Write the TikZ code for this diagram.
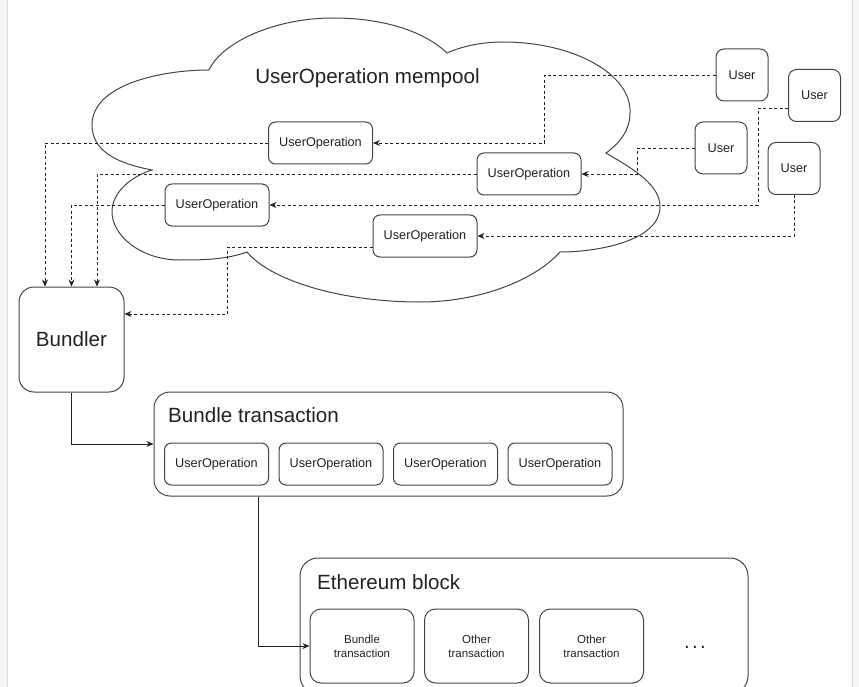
\documentclass[tikz,border=0pt]{standalone}
\usepackage{fontspec}
\setmainfont{Liberation Sans}
\usetikzlibrary{arrows.meta}
\definecolor{linec}{HTML}{444444}
\definecolor{textc}{HTML}{222222}
\definecolor{framec}{HTML}{DDDDDD}
\definecolor{framefill}{HTML}{F6F6F6}
\tikzset{
  box/.style={draw=linec, line width=1pt, rounded corners=7pt, minimum width=104pt, minimum height=42pt, inner sep=0pt, text=textc, font=\fontsize{12.7}{15}\selectfont},
  userbox/.style={box, minimum width=52pt, minimum height=52pt, rounded corners=8pt},
  txbox/.style={box, minimum width=104pt, minimum height=74pt, rounded corners=11pt, align=center, font=\fontsize{11.5}{14}\selectfont},
  bigbox/.style={draw=linec, line width=1pt, inner sep=0pt},
  title/.style={text=textc, font=\fontsize{20.6}{24}\selectfont, inner sep=0pt},
  dashline/.style={draw=textc, line width=0.9pt, dash pattern=on 3pt off 2.5pt, -{Stealth[length=7pt,width=6pt]}},
  solidline/.style={draw=textc, line width=0.9pt, -{Stealth[length=7pt,width=6pt]}},
  cloudline/.style={draw=linec, line width=1pt},
}
\begin{document}
\begin{tikzpicture}[x=1pt,y=-1pt]
\useasboundingbox (0,0) rectangle (859,687);
% frame edges
\fill[framefill] (0,0) rectangle (7,687);
\fill[framefill] (853,0) rectangle (859,687);
\draw[framec, line width=1.2pt] (7.5,0) -- (7.5,687);
\draw[framec, line width=1.2pt] (852.5,0) -- (852.5,687);

% cloud
\draw[cloudline]
  (209,70) .. controls (222,42) and (275,18) .. (333,18)
           .. controls (385,18) and (425,32) .. (447,53)
           .. controls (465,45) and (485,42) .. (503,42)
           .. controls (575,42) and (632,75) .. (630,113)
           .. controls (630,130) and (620,143) .. (606,153)
           .. controls (635,170) and (660,185) .. (660,207)
           .. controls (660,240) and (600,252) .. (560,252)
           .. controls (535,280) and (480,302) .. (420,302)
           .. controls (340,302) and (270,280) .. (247,252)
           .. controls (225,260) and (200,260) .. (180,260)
           .. controls (140,260) and (112,235) .. (112,212)
           .. controls (112,190) and (135,175) .. (152,170)
           .. controls (115,163) and (92,150) .. (92,125)
           .. controls (92,85) and (160,70) .. (209,70) -- cycle;
\node[title] (mempool) at (367.5,78) {UserOperation mempool};

% users
\node[userbox] (U1) at (742,75) {User};
\node[userbox] (U2) at (814.5,95.5) {User};
\node[userbox] (U3) at (721,148) {User};
\node[userbox] (U4) at (794,168.5) {User};

% user operations in mempool
\node[box] (Op1) at (320.5,143) {UserOperation};
\node[box] (Op2) at (529,174) {UserOperation};
\node[box] (Op3) at (217,205) {UserOperation};
\node[box] (Op4) at (425,236) {UserOperation};

% bundler
\node[box, minimum width=105pt, minimum height=105pt, rounded corners=15pt, font=\fontsize{20.6}{24}\selectfont] (Bundler) at (71.5,339.5) {Bundler};

% bundle transaction
\node[bigbox, minimum width=469pt, minimum height=104pt, rounded corners=16pt] (btx) at (388.5,444) {};
\node[title, anchor=west] (btxt) at (168,415.5) {Bundle transaction};
\node[box] (B1) at (216.5,464) {UserOperation};
\node[box] (B2) at (331,464) {UserOperation};
\node[box] (B3) at (445.5,464) {UserOperation};
\node[box] (B4) at (560,464) {UserOperation};

% ethereum block
\node[bigbox, minimum width=448pt, minimum height=136pt, rounded corners=18pt] (eth) at (524,626) {};
\node[title, anchor=west] (etht) at (317,582.5) {Ethereum block};
\node[txbox] (T1) at (362,646) {Bundle\\transaction};
\node[txbox] (T2) at (476.5,646) {Other\\transaction};
\node[txbox] (T3) at (591.5,646) {Other\\transaction};
\node[text=textc, font=\fontsize{20.6}{24}\selectfont, inner sep=0pt] (dots) at (695,647.5) {.\kern2.3pt.\kern2.3pt.};

% users to mempool
\draw[dashline] (U1.west) -- ++(-171,0) |- (Op1.east);
\draw[dashline] (U3.west) -- ++(-57,0) |- (Op2.east);
\draw[dashline] ([yshift=-13pt]U2.west) -- ++(-30,0) |- (Op3.east);
\draw[dashline] (U4.south) |- (Op4.east);

% mempool to bundler
\draw[dashline] (Op1.west) -| ([xshift=-26.5pt]Bundler.north);
\draw[dashline] (Op3.west) -| (Bundler.north);
\draw[dashline] (Op2.west) -| ([xshift=25.5pt]Bundler.north);
\draw[dashline] ([yshift=-11pt]Op4.west) -- ++(-145,0) |- ([yshift=25.5pt]Bundler.east);

% bundler to bundle transaction to block
\draw[solidline] (Bundler.south) |- (btx.west);
\draw[solidline] ([xshift=-130.5pt]btx.south) |- (T1.west);
\end{tikzpicture}
\end{document}
